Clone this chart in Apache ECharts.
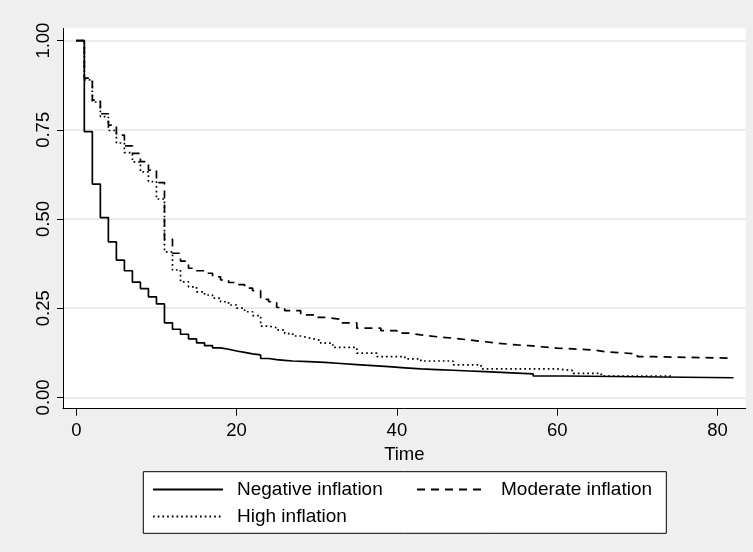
<!DOCTYPE html>
<html>
<head>
<meta charset="utf-8">
<script src="https://cdn.jsdelivr.net/npm/echarts@6/dist/echarts.min.js"></script>
<style>
html,body{margin:0;padding:0;background:#efefef;}
#chart{width:753px;height:552px;}
</style>
</head>
<body>
<div id="chart"></div>
<script>
// ---- data ----
const seriesNames = ['Negative inflation', 'Moderate inflation', 'High inflation'];

const negTime = [0,1,2,3,4,5,6,7,8,9,10,11,12,13,14,15,16,17,18,19,20,21,22,23,24,25,26,27,29,31,33,35,37,39,41,43,45,47,49,51,53,55,57,61,82];
const negSurv = [1,0.745,0.598,0.504,0.436,0.385,0.355,0.323,0.305,0.282,0.262,0.209,0.191,0.177,0.164,0.153,0.145,0.139,0.135,0.130,0.126,0.122,0.119,0.109,0.106,0.104,0.102,0.100,0.098,0.095,0.092,0.089,0.086,0.083,0.080,0.078,0.076,0.074,0.072,0.070,0.068,0.066,0.060,0.055,0.055];

const modTime = [0,1,2,3,4,5,6,7,8,9,10,11,12,13,14,15,16,17,18,19,20,21,22,23,24,25,26,28,30,31,33,35,38,40,41.5,43,45,47,49,51,52.5,55,56.5,58,60,64.5,66,68,70,72,82];
const modSurv = [1,0.895,0.833,0.795,0.763,0.735,0.705,0.684,0.661,0.637,0.602,0.443,0.404,0.382,0.362,0.355,0.348,0.338,0.329,0.322,0.316,0.306,0.299,0.275,0.268,0.252,0.243,0.231,0.224,0.219,0.209,0.194,0.187,0.180,0.175,0.170,0.166,0.161,0.156,0.152,0.147,0.145,0.142,0.138,0.133,0.128,0.125,0.122,0.114,0.110,0.110];

const highTime = [0,1,2,3,4,5,6,7,8,9,10,11,12,13,14,15,16,17,18,19,20,21,22,23,24,25,26,27,28,29,30,30.5,32,35,37.5,41,43,47,50.5,60,62,65.5,74.5];
const highSurv = [1,0.89,0.828,0.787,0.748,0.713,0.686,0.66,0.632,0.605,0.556,0.408,0.357,0.324,0.310,0.296,0.287,0.278,0.268,0.259,0.250,0.240,0.229,0.200,0.195,0.189,0.179,0.172,0.167,0.162,0.160,0.152,0.140,0.124,0.114,0.108,0.102,0.091,0.080,0.075,0.0675,0.060,0.060];

const xTicks = [0, 20, 40, 60, 80];
const yTicks = [0, 0.25, 0.5, 0.75, 1];
const xTitle = 'Time';

// ---- build ----
function zip(t, s) { return t.map((v, i) => [v, s[i]]); }
const FONT = '"Liberation Sans", Arial, Helvetica, sans-serif';

const chart = echarts.init(document.getElementById('chart'));
const lineStyles = [
  { color: '#000', width: 1.7, type: 'solid' },
  { color: '#000', width: 1.7, type: [8, 6] },
  { color: '#000', width: 1.7, type: [1.7, 3] }
];
const dataSets = [zip(negTime, negSurv), zip(modTime, modSurv), zip(highTime, highSurv)];

const legendPos = [
  { left: 152, top: 480 },
  { left: 416, top: 480 },
  { left: 152, top: 507 }
];

chart.setOption({
  animation: false,
  backgroundColor: '#efefef',
  textStyle: { fontFamily: FONT },
  grid: {
    left: 63, right: 7.3, top: 28.3, bottom: 143.3,
    show: true, backgroundColor: '#ffffff', borderWidth: 0
  },
  xAxis: {
    type: 'value',
    min: -1.66, max: 83.52,
    name: xTitle,
    nameLocation: 'middle',
    nameGap: 28,
    nameTextStyle: { color: '#000', fontSize: 18.5, fontFamily: FONT },
    axisLine: { show: true, onZero: false, lineStyle: { color: '#000', width: 1 } },
    axisTick: { show: true, length: 7, lineStyle: { color: '#000' }, customValues: xTicks },
    axisLabel: { color: '#000', fontSize: 18.5, margin: 13, fontFamily: FONT, customValues: xTicks },
    splitLine: { show: false }
  },
  yAxis: {
    type: 'value',
    min: -0.0317, max: 1.0345,
    axisLine: { show: true, onZero: false, lineStyle: { color: '#000', width: 1 } },
    axisTick: { show: true, length: 6, lineStyle: { color: '#000' }, customValues: yTicks },
    axisLabel: {
      color: '#000', fontSize: 18.5, margin: 10, rotate: 90, fontFamily: FONT,
      customValues: yTicks,
      formatter: v => Number(v).toFixed(2)
    },
    splitLine: { show: true, lineStyle: { color: '#e6e6e6', width: 1.5 } }
  },
  legend: seriesNames.map((n, i) => ({
    data: [n],
    left: legendPos[i].left,
    top: legendPos[i].top,
    padding: 0,
    itemWidth: 70,
    itemHeight: 14,
    itemStyle: { opacity: 0 },
    textStyle: { color: '#000', fontSize: 19, fontFamily: FONT, padding: [0, 0, 0, 9] },
    selectedMode: false,
    z: 5
  })),
  graphic: [{
    type: 'rect',
    z: 1,
    shape: { x: 143.3, y: 471.7, width: 523, height: 61.6 },
    style: { fill: '#ffffff', stroke: '#000', lineWidth: 1 }
  }],
  series: seriesNames.map((n, i) => ({
    name: n,
    type: 'line',
    step: 'end',
    symbol: 'none',
    showSymbol: false,
    data: dataSets[i],
    lineStyle: lineStyles[i],
    itemStyle: { color: '#000' },
    emphasis: { disabled: true }
  }))
});
</script>
</body>
</html>
